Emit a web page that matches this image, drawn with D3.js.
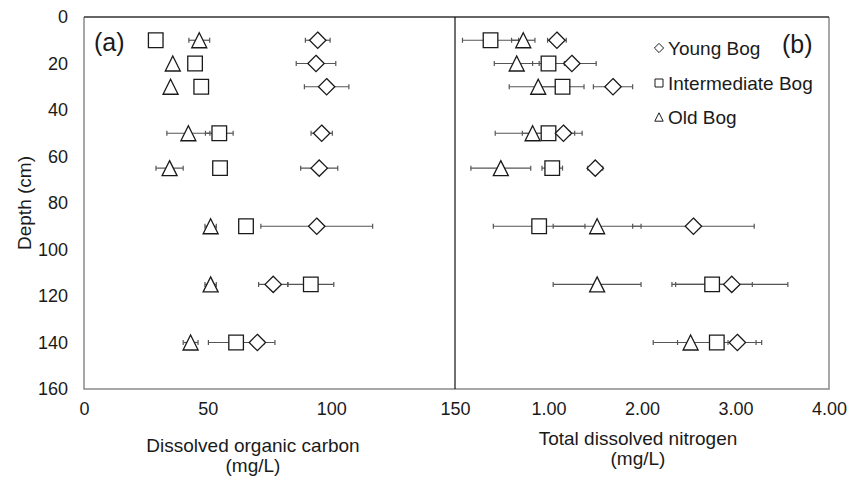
<!doctype html>
<html lang="en">
<head>
    <meta charset="utf-8">
    <title>DOC and TDN by depth</title>
    <script src="https://d3js.org/d3.v7.min.js"></script>
    <style>
        body { margin: 0; background: #fff; }
        svg { display: block; font-family: "Liberation Sans", Arial, sans-serif; }
    </style>
</head>
<body>
<script>
    // depth of each sampling row (cm)
    const depths = [10, 20, 30, 50, 65, 90, 115, 140]

    // Dissolved organic carbon (mg/L) and its +/- error
    const docYoung = [94.5, 93.8, 98.1, 96.1, 95.1, 94.1, 76.5, 70.1]
    const docYoungErr = [5, 8, 9, 4.3, 7.5, 22.6, 5.9, 7.1]
    const docInter = [29, 44.9, 47.4, 54.7, 55, 65.5, 91.7, 61.5]
    const docInterErr = [0, 0, 0, 5.6, 0, 0, 9.3, 11.2]
    const docOld = [46.6, 35.9, 35, 42.2, 34.6, 51.2, 51.2, 43.1]
    const docOldErr = [4.2, 0, 0, 8.7, 5.5, 2.3, 2.3, 3]

    // Total dissolved nitrogen (mg/L) and its +/- error
    const tdnYoung = [1.09, 1.25, 1.69, 1.16, 1.50, 2.55, 2.96, 3.02]
    const tdnYoungErr = [0.1, 0.26, 0.21, 0.2, 0.08, 0.65, 0.6, 0.26]
    const tdnInter = [0.38, 1.0, 1.15, 1.0, 1.04, 0.9, 2.75, 2.8]
    const tdnInterErr = [0.3, 0.17, 0.23, 0.28, 0.11, 0.49, 0.43, 0.42]
    const tdnOld = [0.73, 0.66, 0.89, 0.83, 0.49, 1.52, 1.52, 2.52]
    const tdnOldErr = [0.125, 0.24, 0.31, 0.4, 0.32, 0.47, 0.47, 0.4]

    const depthTicks = [0, 20, 40, 60, 80, 100, 120, 140, 160]
    const docTicks = [0, 50, 100, 150]
    const tdnTicks = [1, 2, 3, 4]

    const width = 852
    const height = 478

    const y = d3.scaleLinear().domain([0, 160]).range([17, 389])
    const xDoc = d3.scaleLinear().domain([0, 150]).range([84, 455])
    const xTdn = d3.scaleLinear().domain([0, 4]).range([455, 829])

    // marker shapes, size = half width in px
    const diamond = {
        draw(ctx, s) {
            ctx.moveTo(0, -s); ctx.lineTo(s, 0); ctx.lineTo(0, s); ctx.lineTo(-s, 0); ctx.closePath()
        }
    }
    const square = {
        draw(ctx, s) { ctx.rect(-s, -s, 2 * s, 2 * s) }
    }
    const triangle = {
        draw(ctx, s) {
            ctx.moveTo(0, -s); ctx.lineTo(s, s); ctx.lineTo(-s, s); ctx.closePath()
        }
    }

    const svg = d3.select("body").append("svg")
        .attr("width", width)
        .attr("height", height)

    // frame
    const frame = svg.append("g").attr("fill", "none")
    frame.append("path")
        .attr("d", `M${xDoc(0)},${y(0)}V${y(160)}H${xTdn(4)}V${y(0)}`)
        .attr("stroke", "#8a8a8a").attr("stroke-width", 1.5)
    frame.append("line")
        .attr("x1", xDoc(0)).attr("x2", xTdn(4)).attr("y1", y(0)).attr("y2", y(0))
        .attr("stroke", "#333").attr("stroke-width", 1.3)
    frame.append("line")
        .attr("x1", xDoc(150)).attr("x2", xDoc(150)).attr("y1", y(0)).attr("y2", y(160))
        .attr("stroke", "#111").attr("stroke-width", 1.2)

    // axes
    function styleAxis(g) {
        g.select(".domain").remove()
        g.selectAll("text").attr("font-size", 18).attr("fill", "#1a1a1a")
            .attr("font-family", "Liberation Sans, Arial, sans-serif")
    }

    svg.append("g")
        .attr("transform", `translate(${xDoc(0)},0)`)
        .call(d3.axisLeft(y).tickValues(depthTicks).tickSize(0).tickPadding(16))
        .call(styleAxis)

    svg.append("g")
        .attr("transform", `translate(0,${y(160)})`)
        .call(d3.axisBottom(xDoc).tickValues(docTicks).tickSize(0).tickPadding(13))
        .call(styleAxis)

    svg.append("g")
        .attr("transform", `translate(0,${y(160)})`)
        .call(d3.axisBottom(xTdn).tickValues(tdnTicks).tickSize(0).tickPadding(13).tickFormat(d3.format(".2f")))
        .call(styleAxis)

    // axis titles
    svg.append("text")
        .attr("transform", `translate(31,${y(80)}) rotate(-90)`)
        .attr("text-anchor", "middle")
        .attr("font-size", 19).attr("fill", "#1a1a1a")
        .text("Depth (cm)")

    const titles = [
        { x: 253, y: 452, lines: ["Dissolved organic carbon", "(mg/L)"] },
        { x: 638, y: 445, lines: ["Total dissolved nitrogen", "(mg/L)"] }
    ]
    for (let t of titles) {
        t.lines.forEach((line, i) => {
            svg.append("text")
                .attr("x", t.x).attr("y", t.y + i * 20)
                .attr("text-anchor", "middle")
                .attr("font-size", 19).attr("fill", "#1a1a1a")
                .text(line)
        })
    }

    // panel letters
    svg.append("text").attr("x", 94).attr("y", 51)
        .attr("font-size", 25).attr("fill", "#1a1a1a").text("(a)")
    svg.append("text").attr("x", 782).attr("y", 53)
        .attr("font-size", 25).attr("fill", "#1a1a1a").text("(b)")

    // series drawing
    const series = [
        { x: xDoc, values: docOld, err: docOldErr, shape: triangle, size: 7.5 },
        { x: xDoc, values: docInter, err: docInterErr, shape: square, size: 7.3 },
        { x: xDoc, values: docYoung, err: docYoungErr, shape: diamond, size: 8.2 },
        { x: xTdn, values: tdnOld, err: tdnOldErr, shape: triangle, size: 7.5 },
        { x: xTdn, values: tdnInter, err: tdnInterErr, shape: square, size: 7.3 },
        { x: xTdn, values: tdnYoung, err: tdnYoungErr, shape: diamond, size: 8.2 }
    ]

    const bars = svg.append("g").attr("stroke", "#555").attr("stroke-width", 1.2).attr("fill", "none")
    for (let s of series) {
        const rows = depths.map((d, i) => ({ depth: d, v: s.values[i], e: s.err[i] })).filter(r => r.e > 0)
        const g = bars.append("g").selectAll("g").data(rows).join("g")
        g.append("line")
            .attr("x1", r => s.x(r.v - r.e)).attr("x2", r => s.x(r.v + r.e))
            .attr("y1", r => y(r.depth)).attr("y2", r => y(r.depth))
        for (let side of [-1, 1]) {
            g.append("line")
                .attr("x1", r => s.x(r.v + side * r.e)).attr("x2", r => s.x(r.v + side * r.e))
                .attr("y1", r => y(r.depth) - 2.5).attr("y2", r => y(r.depth) + 2.5)
        }
    }

    const marks = svg.append("g").attr("fill", "#fff").attr("stroke", "#1a1a1a").attr("stroke-width", 1.3)
    for (let s of series) {
        const sym = d3.symbol().type(s.shape).size(s.size)
        marks.append("g").selectAll("path")
            .data(depths.map((d, i) => ({ depth: d, v: s.values[i] })))
            .join("path")
            .attr("transform", r => `translate(${s.x(r.v)},${y(r.depth)})`)
            .attr("d", sym)
    }

    // legend
    const legendItems = [
        { label: "Young Bog", shape: diamond, size: 4.6, y: 48 },
        { label: "Intermediate Bog", shape: square, size: 4, y: 83 },
        { label: "Old Bog", shape: triangle, size: 4.2, y: 117 }
    ]
    const legend = svg.append("g")
    for (let item of legendItems) {
        legend.append("path")
            .attr("transform", `translate(659,${item.y})`)
            .attr("d", d3.symbol().type(item.shape).size(item.size))
            .attr("fill", "#fff").attr("stroke", "#1a1a1a").attr("stroke-width", 1)
        legend.append("text")
            .attr("x", 668).attr("y", item.y + 7)
            .attr("font-size", 19).attr("fill", "#1a1a1a")
            .text(item.label)
    }
</script>
</body>
</html>
